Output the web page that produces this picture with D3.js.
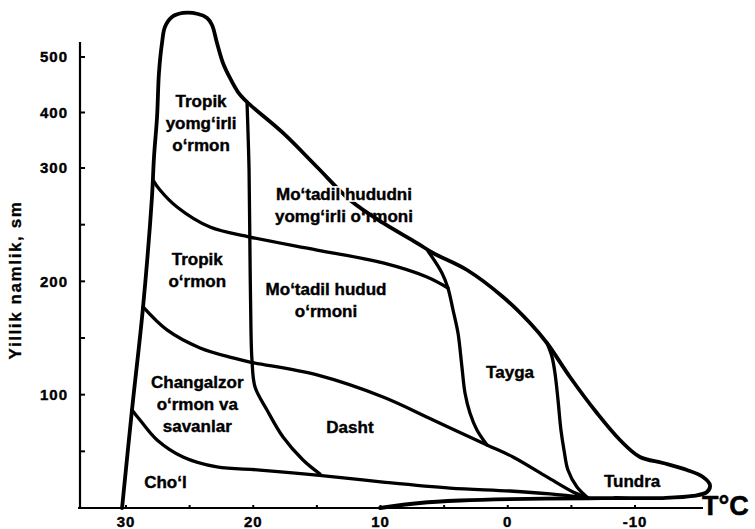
<!DOCTYPE html>
<html>
<head>
<meta charset="utf-8">
<script src="https://cdn.jsdelivr.net/npm/d3@7/dist/d3.min.js"></script>
<style>
  html, body { margin: 0; padding: 0; background: #fff; }
  svg { display: block; }
  text { font-family: "Liberation Sans", Arial, sans-serif; font-weight: bold; fill: #000; }
</style>
</head>
<body>
<svg id="chart" width="755" height="529"></svg>
<script>
// ---- Data (temperature °C, annual precipitation sm) ----
const xTicks = [30, 20, 10, 0, -10];
const xMinorTicks = [25, 15, 5, -5];
const yTicks = [100, 200, 300, 400, 500];
const yMinorTicks = [50, 150, 250];

// Outer envelope of all biomes
const envelope = [
  [30.31, 0], [29.53, 86.5], [28.66, 177.4], [27.96, 274.4], [27.80, 319.8],
  [27.56, 391.9], [27.41, 471.2], [27.17, 525.2], [26.94, 554.1], [26.39, 572.1],
  [25.52, 579.3], [24.34, 577.5], [23.63, 570.3], [23.24, 557.7], [22.85, 525.2],
  [22.38, 489.2], [21.83, 462.2], [21.20, 436.9], [20.49, 418.9], [17.66, 363.1],
  [14.99, 301.8], [12.40, 271.8], [9.80, 251.5], [7.13, 233.8], [5.87, 225.0],
  [3.20, 210.0], [0.37, 186.2], [-1.75, 163.2], [-3.08, 145.6], [-4.89, 115.6],
  [-7.01, 83.8], [-8.82, 60.0], [-10.39, 45.0], [-12.20, 39.7], [-14.09, 33.5],
  [-15.34, 27.4], [-15.89, 20.3], [-15.66, 14.1], [-14.56, 10.6], [-12.20, 8.8],
  [-8.27, 8.8], [-6.31, 8.6], [-0.18, 7.9], [3.75, 6.6], [6.90, 4.4], [10.04, 0]
];

// Desert (Cho'l) upper boundary
const desertLine = [
  [29.53, 86.5], [28.90, 77.6], [27.56, 60.0], [25.52, 45.0], [22.85, 36.2],
  [19.47, 33.5], [14.99, 29.1], [9.80, 22.9], [4.54, 17.6], [-0.18, 15.0],
  [-3.32, 12.4], [-6.31, 8.8]
];

// Forest / savanna-steppe boundary
const forestLine = [
  [28.66, 177.4], [26.78, 157.1], [24.18, 141.2], [21.59, 132.4], [20.26, 128.8],
  [14.99, 117.4], [9.80, 97.9], [5.87, 77.6], [1.63, 55.6], [-0.41, 45.0],
  [-3.08, 27.4], [-5.13, 14.1], [-6.31, 8.8]
];

// Rain forest lower boundary
const rainLine = [
  [27.88, 289.4], [27.33, 280.6], [25.99, 265.6], [23.40, 247.9], [20.26, 239.1],
  [14.99, 227.6], [9.80, 216.2], [6.35, 203.8], [4.70, 194.1]
];

// Taiga western boundary
const taigaWest = [
  [6.27, 226.8], [5.17, 207.4], [4.70, 194.1], [4.30, 174.7], [3.91, 154.4],
  [3.60, 124.4], [3.36, 101.5], [2.97, 83.8], [2.42, 68.8], [1.63, 55.6]
];

// Taiga / tundra boundary
const taigaEast = [
  [-3.08, 145.6], [-3.48, 133.2], [-3.71, 119.1], [-3.95, 95.3], [-4.18, 68.8],
  [-4.42, 51.2], [-4.73, 33.5], [-5.44, 18.5], [-6.31, 8.8]
];

// Tropical / temperate boundary (~20 °C)
const tropicLine = [
  [20.49, 418.9], [20.41, 363.1], [20.33, 298.2], [20.26, 227.6], [20.18, 157.1],
  [20.10, 130.6], [19.86, 106.8], [18.92, 86.5], [17.66, 62.6], [16.09, 42.4],
  [14.75, 30.0]
];

// Biome names, anchored at (temperature, precipitation) of first line
const biomeNames = [
  ["Tropik", "yomg\u2018irli", "o\u2018rmon"],
  ["Tropik", "o\u2018rmon"],
  ["Mo\u2018tadil hududni", "yomg\u2018irli o\u2018rmoni"],
  ["Mo\u2018tadil hudud", "o\u2018rmoni"],
  ["Changalzor", "o\u2018rmon va", "savanlar"],
  ["Cho\u2018l"],
  ["Dasht"],
  ["Tayga"],
  ["Tundra"]
];
const biomeT = [24.1, 24.4, 12.87, 14.28, 24.4, 26.9, 12.4, -0.18, -9.77];
const biomeP = [409.9, 214.4, 271.8, 187.9, 105.9, 17.6, 66.2, 114.7, 18.5];
const haloed = [false, false, true, false, false, false, false, false, false];

const yTitle = "Yillik namlik, sm";
const xTitle = "T\u00B0C";

// ---- Scales ----
const svg = d3.select("#chart");
svg.append("rect").attr("width", 755).attr("height", 529).attr("fill", "#fff");

const x = d3.scaleLinear().domain([30, -10]).range([126, 635]);
const y = d3.scaleLinear().domain([0, 300, 500]).range([508, 168, 57]);

const line = d3.line()
  .x(d => x(d[0])).y(d => y(d[1]))
  .curve(d3.curveCatmullRom.alpha(0.5));

// ---- Axes ----
const axisG = svg.append("g");
axisG.append("line").attr("x1", 80).attr("x2", 80).attr("y1", 42).attr("y2", y(0) + 1)
  .attr("stroke", "#000").attr("stroke-width", 2.2);
axisG.append("line").attr("x1", 78).attr("x2", 703).attr("y1", y(0)).attr("y2", y(0))
  .attr("stroke", "#000").attr("stroke-width", 2.2);

// y ticks
yTicks.concat(yMinorTicks).forEach(v => {
  axisG.append("line").attr("x1", 80).attr("x2", 85).attr("y1", y(v)).attr("y2", y(v))
    .attr("stroke", "#000").attr("stroke-width", 2);
});
yTicks.forEach(v => {
  axisG.append("text").attr("x", 68).attr("y", y(v)).attr("dy", "0.36em")
    .attr("text-anchor", "end").attr("font-size", 15).attr("letter-spacing", 1)
    .attr("stroke", "#000").attr("stroke-width", 0.4)
    .text(v);
});
// x ticks
xTicks.concat(xMinorTicks).forEach(v => {
  axisG.append("line").attr("x1", x(v)).attr("x2", x(v)).attr("y1", y(0)).attr("y2", y(0) - 3)
    .attr("stroke", "#000").attr("stroke-width", 2);
});
xTicks.forEach(v => {
  axisG.append("text").attr("x", x(v)).attr("y", 527)
    .attr("text-anchor", "middle").attr("font-size", 15).attr("letter-spacing", 1)
    .attr("stroke", "#000").attr("stroke-width", 0.4)
    .text(v);
});

axisG.append("text").attr("transform", "translate(21,280) rotate(-90)")
  .attr("text-anchor", "middle").attr("font-size", 17).attr("letter-spacing", 1.6)
  .attr("stroke", "#000").attr("stroke-width", 0.3)
  .text(yTitle);
axisG.append("text").attr("x", 702).attr("y", 515).attr("font-size", 27)
  .attr("stroke", "#000").attr("stroke-width", 0.5).text(xTitle);

// ---- Biome boundaries ----
const linesG = svg.append("g").attr("fill", "none").attr("stroke", "#000")
  .attr("stroke-linecap", "round").attr("stroke-linejoin", "round");
linesG.append("path").attr("d", line(envelope)).attr("stroke-width", 3.8);
[desertLine, forestLine, rainLine, taigaWest, taigaEast, tropicLine].forEach(ln => {
  linesG.append("path").attr("d", line(ln)).attr("stroke-width", 3.3);
});

// ---- Labels ----
const lh = 22;
biomeNames.forEach((lines, i) => {
  if (haloed[i]) {
    svg.append("text")
      .attr("x", x(biomeT[i])).attr("y", y(biomeP[i]))
      .attr("text-anchor", "middle").attr("font-size", 17)
      .attr("stroke", "#fff").attr("stroke-width", 3.5).attr("fill", "#fff")
      .text(lines[0]);
  }
  const t = svg.append("text")
    .attr("x", x(biomeT[i])).attr("y", y(biomeP[i]))
    .attr("text-anchor", "middle").attr("font-size", 17)
    .attr("stroke", "#000").attr("stroke-width", 0.4);
  lines.forEach((s, k) => {
    t.append("tspan").attr("x", x(biomeT[i])).attr("dy", k === 0 ? 0 : lh).text(s);
  });
});
</script>
</body>
</html>
